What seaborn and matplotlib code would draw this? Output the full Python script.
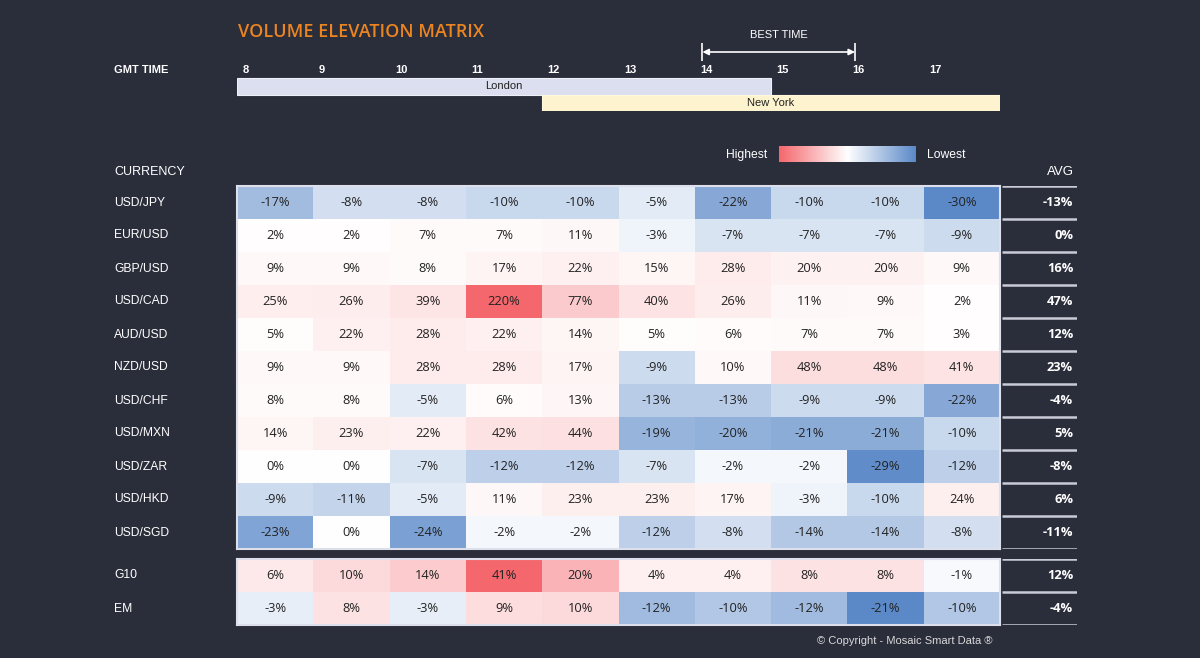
import numpy as np
import matplotlib
matplotlib.use("Agg")
import matplotlib.pyplot as plt
from matplotlib.colors import LinearSegmentedColormap, TwoSlopeNorm
import seaborn as sns

# ---- data ----
hours = [8, 9, 10, 11, 12, 13, 14, 15, 16, 17]
currencies = ["USD/JPY", "EUR/USD", "GBP/USD", "USD/CAD", "AUD/USD", "NZD/USD",
              "USD/CHF", "USD/MXN", "USD/ZAR", "USD/HKD", "USD/SGD"]
usd_jpy = [-17, -8, -8, -10, -10, -5, -22, -10, -10, -30]
eur_usd = [2, 2, 7, 7, 11, -3, -7, -7, -7, -9]
gbp_usd = [9, 9, 8, 17, 22, 15, 28, 20, 20, 9]
usd_cad = [25, 26, 39, 220, 77, 40, 26, 11, 9, 2]
aud_usd = [5, 22, 28, 22, 14, 5, 6, 7, 7, 3]
nzd_usd = [9, 9, 28, 28, 17, -9, 10, 48, 48, 41]
usd_chf = [8, 8, -5, 6, 13, -13, -13, -9, -9, -22]
usd_mxn = [14, 23, 22, 42, 44, -19, -20, -21, -21, -10]
usd_zar = [0, 0, -7, -12, -12, -7, -2, -2, -29, -12]
usd_hkd = [-9, -11, -5, 11, 23, 23, 17, -3, -10, 24]
usd_sgd = [-23, 0, -24, -2, -2, -12, -8, -14, -14, -8]
currency_avg = [-13, 0, 16, 47, 12, 23, -4, 5, -8, 6, -11]

groups = ["G10", "EM"]
g10 = [6, 10, 14, 41, 20, 4, 4, 8, 8, -1]
em = [-3, 8, -3, 9, 10, -12, -10, -12, -21, -10]
group_avg = [12, -4]

sessions = ["London", "New York"]
session_start = [8, 12]
session_end = [15, 18]
best_time = [14, 16]

# ---- style ----
BG = "#2A2D3A"
sns.set_theme(style="white")
plt.rcParams["font.family"] = ["Liberation Sans", "DejaVu Sans"]
cmap = LinearSegmentedColormap.from_list("hl", ["#5B89C8", "#FFFFFF", "#F4676C"])

W, H = 1200, 658
fig = plt.figure(figsize=(12, 6.58), dpi=100, facecolor=BG)


def px_axes(x0, y0, x1, y1):
    return fig.add_axes([x0 / W, 1 - y1 / H, (x1 - x0) / W, (y1 - y0) / H])


def draw_block(ax, ax_avg, vals, names, avgs):
    vals = np.array(vals)
    labels = np.array([[f"{v}%" for v in row] for row in vals])
    norm = TwoSlopeNorm(vmin=vals.min(), vcenter=0, vmax=vals.max())
    sns.heatmap(vals, ax=ax, cmap=cmap, norm=norm, cbar=False,
                annot=labels, fmt="",
                annot_kws={"color": "#222222", "fontsize": 9.3, "family": "Open Sans"},
                xticklabels=False, yticklabels=names)
    ax.tick_params(axis="y", length=0, pad=88.5, labelsize=8.7, labelcolor="white")
    for lbl in ax.get_yticklabels():
        lbl.set_ha("left")
        lbl.set_rotation(0)
    for s in ax.spines.values():
        s.set_visible(True)
        s.set_color("#DDE0EA")
        s.set_linewidth(1.5)
    n = len(names)
    ax_avg.set_facecolor(BG)
    ax_avg.set_xlim(0, 1)
    ax_avg.set_ylim(n, 0)
    ax_avg.axis("off")
    ax_avg.hlines(range(n + 1), 0.03, 1, color="#C9CCD6", lw=1.8)
    for i, a in enumerate(avgs):
        ax_avg.text(0.95, i + 0.5, f"{a}%", ha="right", va="center",
                    color="white", fontsize=9.3, fontweight="bold", family="Open Sans")


main = np.array([usd_jpy, eur_usd, gbp_usd, usd_cad, aud_usd, nzd_usd,
                 usd_chf, usd_mxn, usd_zar, usd_hkd, usd_sgd])
ax1 = px_axes(237, 186, 1000, 549)
ax1a = px_axes(1000, 186, 1077, 549)
draw_block(ax1, ax1a, main, currencies, currency_avg)

ax2 = px_axes(237, 559, 1000, 625)
ax2a = px_axes(1000, 559, 1077, 625)
draw_block(ax2, ax2a, np.array([g10, em]), groups, group_avg)

# ---- session header ----
row_px = 16.5
axt = px_axes(237, 20, 1000, 111)
axt.set_facecolor("none")
axt.axis("off")
axt.set_xlim(8, 18)
axt.set_ylim(1.5, -0.5 - (78 - 20) / row_px)
axt.barh([0, 1], np.array(session_end) - np.array(session_start), left=session_start,
         height=1, color=["#DCDFF0", "#FDF3CF"], edgecolor=["#EEF0F8", "#FFF8DD"], lw=0.8)
for i, name in enumerate(sessions):
    axt.text((session_start[i] + session_end[i]) / 2, i, name, ha="center", va="center",
             fontsize=8, color="#222222")
y_hours = -0.5 - 8 / row_px
for h in hours:
    axt.text(h + 0.07, y_hours, str(h), ha="left", va="center", color="white",
             fontsize=8, fontweight="bold")
y_arrow = -0.5 - 26 / row_px
axt.annotate("", xy=(best_time[1] + 0.1, y_arrow), xytext=(best_time[0] + 0.1, y_arrow),
             arrowprops=dict(arrowstyle="<|-|>", color="white", lw=1.2,
                             shrinkA=0, shrinkB=0, mutation_scale=9))
axt.vlines([best_time[0] + 0.09, best_time[1] + 0.1], y_arrow - 0.55, y_arrow + 0.55,
           color="white", lw=1.2)
axt.text(np.mean(best_time) + 0.1, -0.5 - 43 / row_px, "BEST TIME", ha="center",
         va="center", color="white", fontsize=8)

# ---- legend gradient ----
axl = px_axes(779, 146, 916, 162)
axl.imshow(np.linspace(1, -1, 256)[None, :], cmap=cmap, aspect="auto", vmin=-1, vmax=1)
axl.set_xticks([])
axl.set_yticks([])
for s in axl.spines.values():
    s.set_visible(False)
fig.text(767 / W, 1 - 155 / H, "Highest", ha="right", va="center", color="white", fontsize=8.7)
fig.text(927 / W, 1 - 155 / H, "Lowest", ha="left", va="center", color="white", fontsize=8.7)

# ---- titles and labels ----
fig.text(238 / W, 1 - 32 / H, "VOLUME ELEVATION MATRIX", ha="left", va="center",
         color="#EC8420", fontsize=13, fontweight="semibold", family="Open Sans")
fig.text(114 / W, 1 - 70 / H, "GMT TIME", ha="left", va="center", color="white",
         fontsize=8, fontweight="bold")
fig.text(114 / W, 1 - 172 / H, "CURRENCY", ha="left", va="center", color="white", fontsize=9)
fig.text(1074 / W, 1 - 172 / H, "AVG", ha="right", va="center", color="white", fontsize=9.5)
fig.text(905 / W, 1 - 641 / H, "\u00a9 Copyright - Mosaic Smart Data \u00ae", ha="center",
         va="center", color="#DADADA", fontsize=8)

fig.savefig("out.png", dpi=100, facecolor=BG)
